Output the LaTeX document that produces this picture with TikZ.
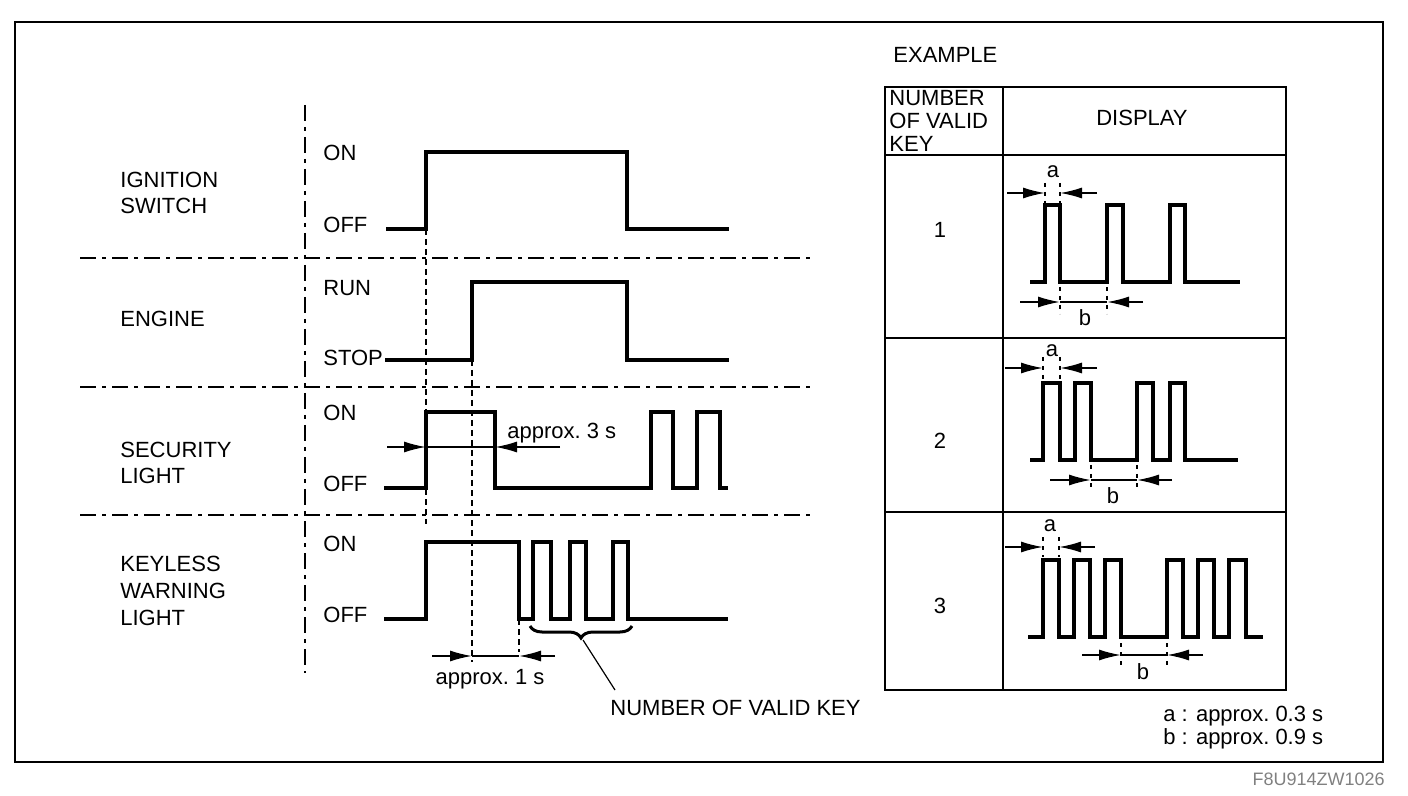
\documentclass[tikz,border=0pt]{standalone}
\usepackage{fontspec}
\setmainfont{Liberation Sans}
\usetikzlibrary{arrows.meta,decorations.pathreplacing}
\tikzset{
  wave/.style     = {line width=2pt},
  sepline/.style  = {line width=0.8pt, dash pattern=on 8pt off 3pt on 2pt off 3pt},
  guide/.style    = {line width=0.7pt, dash pattern=on 3pt off 2pt},
  tickmark/.style = {line width=1.2pt, dash pattern=on 2pt off 2.5pt},
  dim/.style      = {line width=0.8pt, -{Latex[length=11pt,width=5.5pt]}},
  txt/.style      = {font=\fontsize{11}{13.3}\selectfont, inner sep=0pt, align=left},
  sig/.style      = {txt, anchor=west},
  cell/.style     = {line width=1pt}
}

\begin{document}
\begin{tikzpicture}[x=0.5pt, y=-0.5pt]
  \useasboundingbox (0,0) rectangle (1408,796);
  \draw[line width=1pt] (15,22) rectangle (1383,762);

  % left part: timing chart
  \draw[sepline] (305,105) -- (305,673);
  \foreach \y in {258,387,515}
    \draw[sepline] (80,\y) -- (813,\y);

  \node[sig] (ign)  at (120,193) {IGNITION\\SWITCH};
  \node[sig] (eng)  at (120,319) {ENGINE};
  \node[sig] (sec)  at (120,463) {SECURITY\\LIGHT};
  \node[sig] (kwl)  at (120,591) {KEYLESS\\WARNING\\LIGHT};

  \node[sig] (ignon)  at (323,153) {ON};
  \node[sig] (ignoff) at (323,225) {OFF};
  \node[sig] (engrun) at (323,288) {RUN};
  \node[sig] (engstp) at (323,358) {STOP};
  \node[sig] (secon)  at (323,413) {ON};
  \node[sig] (secoff) at (323,484) {OFF};
  \node[sig] (kwlon)  at (323,544) {ON};
  \node[sig] (kwloff) at (323,615) {OFF};

  \draw[wave] (386,229) -| (426,152) -| (627,229) -- (729,229);
  \draw[wave] (385,360) -| (472,282) -| (627,360) -- (729,360);
  \draw[wave] (384,488) -| (426,412) -| (495,488) -| (651,412) -| (673,488)
              -| (697,412) -| (720,488) -- (728,488);
  \draw[wave] (384,619) -| (426,542) -| (519,619) -| (533,542) -| (551,619)
              -| (570,542) -| (586,619) -| (613,542) -| (628,619) -- (728,619);

  \draw[guide] (426,229) -- (426,524);
  \draw[guide] (472,360) -- (472,662);
  \draw[guide] (519,619) -- (519,652);

  % approx. 3 s
  \coordinate (s3l) at (426,447);
  \coordinate (s3r) at (495,447);
  \draw[dim] (387,447) -- (s3l);
  \draw[dim] (560,447) -- (s3r);
  \draw[line width=0.8pt] (s3l) -- (s3r);
  \node[sig] (s3) at (507,433) {approx.\ 3 s};

  % approx. 1 s
  \coordinate (s1l) at (472,656);
  \coordinate (s1r) at (519,656);
  \draw[dim] (432,656) -- (s1l);
  \draw[dim] (555,656) -- (s1r);
  \draw[line width=0.8pt] (s1l) -- (s1r);
  \node[txt] (s1) at (490,679) {approx.\ 1 s};

  \draw[line width=1.5pt, decorate, decoration={brace, mirror, amplitude=6pt}]
    (530,626) -- (632,626);
  \coordinate (bracetip) at (583,640);
  \node[sig] (keycount) at (610,708) {NUMBER OF VALID KEY};
  \draw[line width=0.6pt] (bracetip) -- (615,690);

  % right part: table
  \node[sig] (example) at (893,55) {EXAMPLE};
  \draw[cell] (885,87) rectangle (1286,690);
  \draw[cell] (1003,87) -- (1003,690);
  \foreach \y in {155,338,512}
    \draw[cell] (885,\y) -- (1286,\y);
  \node[txt, anchor=west, font=\fontsize{11}{11.3}\selectfont] (numhead) at (889,121)
    {NUMBER\\OF VALID\\KEY};
  \node[txt] (disphead) at (1142,118) {DISPLAY};
  \node[txt] (n1) at (940,230) {1};
  \node[txt] (n2) at (940,441) {2};
  \node[txt] (n3) at (940,606) {3};

  % row 1
  \draw[wave] (1030,282) -| (1045,205) -| (1060,282) -| (1107,205) -| (1123,282)
              -| (1170,205) -| (1185,282) -- (1240,282);
  \draw[tickmark] (1045,183) -- (1045,203) (1060,183) -- (1060,203);
  \draw[tickmark] (1060,287) -- (1060,314) (1107,287) -- (1107,314);
  \draw[dim] (1007,193) -- (1045,193);
  \draw[dim] (1097,193) -- (1060,193);
  \draw[dim] (1020,302) -- (1060,302);
  \draw[dim] (1143,302) -- (1107,302);
  \draw[line width=0.8pt] (1060,302) -- (1107,302);
  \node[txt] (a1) at (1053,172) {a};
  \node[txt] (b1) at (1085,318) {b};

  % row 2
  \draw[wave] (1030,460) -| (1043,383) -| (1060,460) -| (1075,383) -| (1091,460)
              -| (1137,383) -| (1153,460) -| (1170,383) -| (1185,460) -- (1238,460);
  \draw[tickmark] (1043,357) -- (1043,380) (1060,357) -- (1060,380);
  \draw[tickmark] (1091,465) -- (1091,490) (1137,465) -- (1137,490);
  \draw[dim] (1005,368) -- (1043,368);
  \draw[dim] (1097,368) -- (1060,368);
  \draw[dim] (1050,480) -- (1091,480);
  \draw[dim] (1172,480) -- (1137,480);
  \draw[line width=0.8pt] (1091,480) -- (1137,480);
  \node[txt] (a2) at (1052,351) {a};
  \node[txt] (b2) at (1113,496) {b};

  % row 3
  \draw[wave] (1028,637) -| (1043,560) -| (1059,637) -| (1074,560) -| (1090,637)
              -| (1105,560) -| (1121,637) -| (1167,560) -| (1183,637) -| (1198,560)
              -| (1214,637) -| (1229,560) -| (1246,637) -- (1263,637);
  \draw[tickmark] (1043,537) -- (1043,557) (1059,537) -- (1059,557);
  \draw[tickmark] (1121,643) -- (1121,668) (1167,643) -- (1167,668);
  \draw[dim] (1005,547) -- (1043,547);
  \draw[dim] (1095,547) -- (1059,547);
  \draw[dim] (1082,655) -- (1121,655);
  \draw[dim] (1203,655) -- (1167,655);
  \draw[line width=0.8pt] (1121,655) -- (1167,655);
  \node[txt] (a3) at (1050,526) {a};
  \node[txt] (b3) at (1143,672) {b};

  \node[sig] (lega) at (1163,716) {a : approx.\ 0.3 s};
  \node[sig] (legb) at (1163,739) {b : approx.\ 0.9 s};
  \node[txt, anchor=east, font=\fontsize{9}{10}\selectfont, text=gray] (code)
    at (1385,779) {F8U914ZW1026};
\end{tikzpicture}
\end{document}
